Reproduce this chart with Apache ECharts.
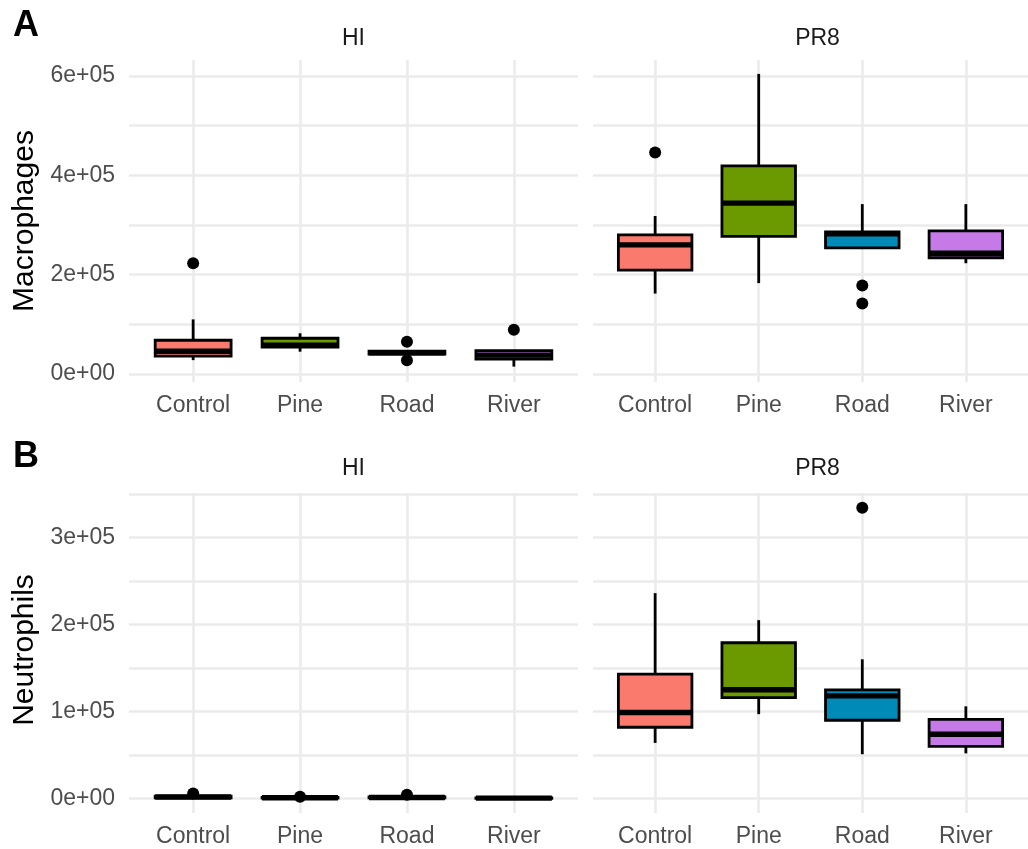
<!DOCTYPE html>
<html>
<head>
<meta charset="utf-8">
<script src="https://cdn.jsdelivr.net/npm/echarts@6/dist/echarts.min.js"></script>
<style>
html,body{margin:0;padding:0;background:#fff;}
#chart{width:1028px;height:849px;}
</style>
</head>
<body>
<div id="chart"></div>
<script>
// ---------------- data ----------------
const CATEGORIES = ['Control', 'Pine', 'Road', 'River'];
const FACETS = ['HI', 'PR8'];
const Y_TITLES = ['Macrophages', 'Neutrophils'];
const PANEL_LETTERS = ['A', 'B'];

// each box: [lower whisker, Q1, median, Q3, upper whisker]
const MAC_HI = [
  [28000, 36000, 46000, 68000, 110000],
  [45000, 54000, 58000, 72000, 82000],
  [38000, 40000, 43000, 46000, 47000],
  [15000, 30000, 38000, 47000, 47000]
];
const MAC_PR8 = [
  [162000, 209000, 260000, 280000, 318000],
  [183000, 277000, 344000, 419000, 604000],
  [254000, 254000, 282000, 286000, 342000],
  [223000, 234000, 243000, 288000, 342000]
];
const NEU_HI = [
  [500, 1000, 1800, 2800, 4000],
  [200, 600, 1000, 1500, 1900],
  [400, 800, 1300, 1900, 2800],
  [100, 300, 600, 900, 1300]
];
const NEU_PR8 = [
  [64000, 82000, 99000, 143000, 236000],
  [97000, 116000, 125000, 179000, 205000],
  [51000, 90000, 118000, 125000, 160000],
  [52000, 60000, 74000, 91000, 106000]
];

// outliers: [category, value]
const MAC_HI_OUT = [['Control', 223000], ['Road', 65000], ['Road', 28000], ['River', 89000]];
const MAC_PR8_OUT = [['Control', 446000], ['Road', 178000], ['Road', 142000]];
const NEU_HI_OUT = [['Control', 6000], ['Pine', 2200], ['Road', 4500]];
const NEU_PR8_OUT = [['Road', 334000]];

// axis ticks
const MAC_GRID_TICKS = [0, 100000, 200000, 300000, 400000, 500000, 600000];
const MAC_LABEL_TICKS = [0, 200000, 400000, 600000];
const NEU_GRID_TICKS = [0, 50000, 100000, 150000, 200000, 250000, 300000, 350000];
const NEU_LABEL_TICKS = [0, 100000, 200000, 300000];

// ---------------- style ----------------
const FILLS = ['#FA7B6E', '#6A9900', '#008AB8', '#C57AE8'];
const FONT = 'Liberation Sans';
const GRID_COLOR = '#EBEBEB';
const BOX_W = 0.71;

function sci(v) {
  if (v === 0) return '0e+00';
  const e = Math.floor(Math.log10(Math.abs(v)) + 1e-9);
  const m = Math.round(v / Math.pow(10, e));
  return m + 'e+' + String(e).padStart(2, '0');
}

const panels = [
  {box: MAC_HI,  out: MAC_HI_OUT,  row: 0, col: 0},
  {box: MAC_PR8, out: MAC_PR8_OUT, row: 0, col: 1},
  {box: NEU_HI,  out: NEU_HI_OUT,  row: 1, col: 0},
  {box: NEU_PR8, out: NEU_PR8_OUT, row: 1, col: 1}
];
const ROW_LAYOUT = [
  {top: 60, height: 322, min: -16000, max: 632000, gridTicks: MAC_GRID_TICKS, labelTicks: MAC_LABEL_TICKS},
  {top: 493, height: 320, min: -16500, max: 351000, gridTicks: NEU_GRID_TICKS, labelTicks: NEU_LABEL_TICKS}
];
const COL_LEFT = [129, 593];
const PANEL_W = 449;

const grids = [], xAxes = [], yAxes = [], series = [];
panels.forEach((p, i) => {
  const r = ROW_LAYOUT[p.row];
  grids.push({left: COL_LEFT[p.col], top: r.top, width: PANEL_W, height: r.height, containLabel: false});
  xAxes.push({
    type: 'value', gridIndex: i, min: -0.6, max: 3.6,
    axisLine: {show: false},
    axisTick: {show: false, customValues: [0, 1, 2, 3]},
    axisLabel: {customValues: [0, 1, 2, 3], formatter: v => CATEGORIES[Math.round(v)],
      fontFamily: FONT, fontSize: 23, color: '#4D4D4D', margin: 12},
    splitLine: {show: true, lineStyle: {color: GRID_COLOR, width: 2.6}}
  });
  yAxes.push({
    type: 'value', gridIndex: i, min: r.min, max: r.max,
    axisLine: {show: false},
    axisTick: {show: false, customValues: r.gridTicks},
    axisLabel: {show: p.col === 0, customValues: r.labelTicks, formatter: sci,
      fontFamily: FONT, fontSize: 23, color: '#4D4D4D', margin: 14},
    splitLine: {show: true, lineStyle: {color: GRID_COLOR, width: 2.6}}
  });
  series.push({
    type: 'custom', xAxisIndex: i, yAxisIndex: i, coordinateSystem: 'cartesian2d',
    encode: {x: 0, y: [1, 2, 3, 4, 5]},
    data: p.box.map((b, k) => [k].concat(b)),
    renderItem: function (params, api) {
      const x = api.value(0);
      const pLo = api.coord([x, api.value(1)]);
      const pQ1 = api.coord([x, api.value(2)]);
      const pMed = api.coord([x, api.value(3)]);
      const pQ3 = api.coord([x, api.value(4)]);
      const pHi = api.coord([x, api.value(5)]);
      const half = api.size([BOX_W, 0])[0] / 2;
      const lw = 2.8;
      return {type: 'group', children: [
        {type: 'line', shape: {x1: pHi[0], y1: pHi[1], x2: pQ3[0], y2: pQ3[1]}, style: {stroke: '#000', lineWidth: lw}},
        {type: 'line', shape: {x1: pLo[0], y1: pLo[1], x2: pQ1[0], y2: pQ1[1]}, style: {stroke: '#000', lineWidth: lw}},
        {type: 'rect', shape: {x: pQ3[0] - half, y: pQ3[1], width: 2 * half, height: pQ1[1] - pQ3[1]},
          style: {fill: FILLS[x], stroke: '#000', lineWidth: lw}},
        {type: 'line', shape: {x1: pMed[0] - half, y1: pMed[1], x2: pMed[0] + half, y2: pMed[1]},
          style: {stroke: '#000', lineWidth: 5.4}}
      ]};
    },
    z: 2
  });
  series.push({
    type: 'scatter', xAxisIndex: i, yAxisIndex: i,
    data: p.out.map(o => [CATEGORIES.indexOf(o[0]), o[1]]),
    symbol: 'circle', symbolSize: 12,
    itemStyle: {color: '#000', opacity: 1},
    z: 3
  });
});

const graphics = [];
const STRIP_Y = [39, 469];
const TITLE_Y = [221, 650];
const LETTER_Y = [26, 457];
for (let r = 0; r < 2; r++) {
  for (let c = 0; c < 2; c++) {
    graphics.push({type: 'text', x: COL_LEFT[c] + PANEL_W / 2, y: STRIP_Y[r],
      style: {text: FACETS[c], fontFamily: FONT, fontSize: 23, fill: '#1A1A1A', align: 'center', verticalAlign: 'middle'}});
  }
  graphics.push({type: 'text', x: 25, y: TITLE_Y[r], rotation: Math.PI / 2,
    style: {text: Y_TITLES[r], fontFamily: FONT, fontSize: 30, fill: '#000', align: 'center', verticalAlign: 'middle'}});
  graphics.push({type: 'text', x: 26, y: LETTER_Y[r],
    style: {text: PANEL_LETTERS[r], fontFamily: FONT, fontSize: 36, fontWeight: 'bold', fill: '#000', align: 'center', verticalAlign: 'middle'}});
}

const chart = echarts.init(document.getElementById('chart'), null, {renderer: 'canvas'});
chart.setOption({
  animation: false,
  backgroundColor: '#fff',
  grid: grids,
  xAxis: xAxes,
  yAxis: yAxes,
  series: series,
  graphic: graphics
});
</script>
</body>
</html>
